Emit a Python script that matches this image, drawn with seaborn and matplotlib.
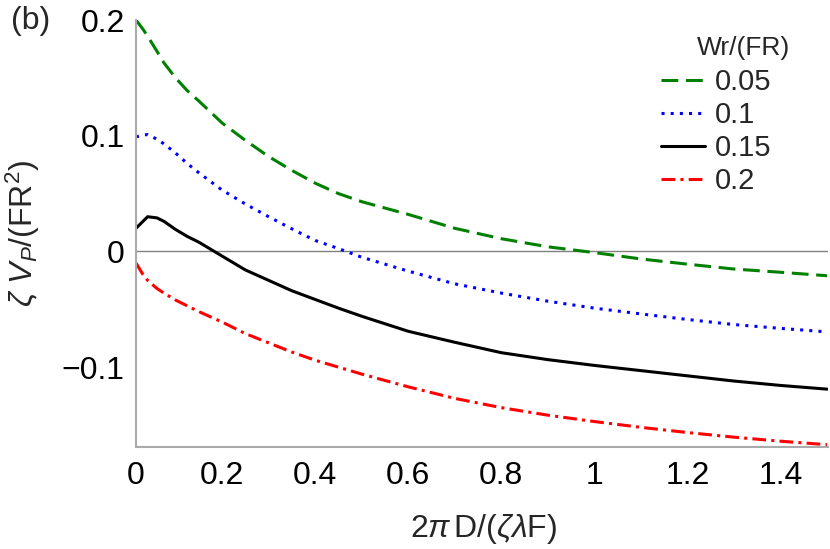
import numpy as np
import pandas as pd
import matplotlib
matplotlib.use("Agg")
import matplotlib.pyplot as plt
import seaborn as sns
from matplotlib.lines import Line2D

# x values along 2 pi D / (zeta lambda F)
x_vals = [0.015, 0.03, 0.04, 0.06, 0.075, 0.1, 0.125, 0.15, 0.2, 0.25, 0.3, 0.35,
          0.4, 0.45, 0.5, 0.6, 0.7, 0.8, 0.9, 1.0, 1.1, 1.2, 1.3, 1.4, 1.5]

# zeta V_P / (F R^2) for each Wr/(FR)
v_005 = [0.200, 0.192, 0.186, 0.173, 0.163, 0.150, 0.139, 0.130, 0.111, 0.096, 0.082, 0.070,
         0.059, 0.050, 0.043, 0.032, 0.020, 0.011, 0.004, -0.001, -0.0065, -0.011, -0.0152,
         -0.018, -0.021]
v_010 = [0.099, 0.1005, 0.101, 0.097, 0.093, 0.085, 0.076, 0.068, 0.053, 0.041, 0.030, 0.0195,
         0.0095, 0.0025, -0.005, -0.017, -0.028, -0.036, -0.043, -0.049, -0.054, -0.0588,
         -0.0632, -0.0665, -0.0695]
v_015 = [0.020, 0.026, 0.030, 0.029, 0.026, 0.019, 0.013, 0.008, -0.004, -0.016, -0.025, -0.034,
         -0.0415, -0.049, -0.056, -0.069, -0.0785, -0.0875, -0.0935, -0.0985, -0.103, -0.1075,
         -0.112, -0.1158, -0.119]
v_020 = [-0.010, -0.020, -0.025, -0.032, -0.036, -0.042, -0.047, -0.052, -0.061, -0.071, -0.079,
         -0.087, -0.094, -0.100, -0.106, -0.117, -0.127, -0.135, -0.1415, -0.147, -0.152,
         -0.1565, -0.1605, -0.164, -0.167]

wr_labels = ["0.05", "0.1", "0.15", "0.2"]
colors = {"0.05": "#008000", "0.1": "#0000ff", "0.15": "#000000", "0.2": "#ff0000"}
dashes = {"0.05": (5.5, 2.5), "0.1": (1, 2), "0.15": "", "0.2": (4.5, 1.7, 1, 1.7)}

frames = []
for lab, vals in zip(wr_labels, [v_005, v_010, v_015, v_020]):
    frames.append(pd.DataFrame({"x": x_vals, "v": vals, "wr": lab}))
df = pd.concat(frames, ignore_index=True)

sns.set_style("white")
plt.rcParams['font.family'] = ['Liberation Sans', 'DejaVu Sans']
plt.rcParams['mathtext.fontset'] = 'custom'
plt.rcParams['mathtext.rm'] = 'Liberation Sans'
plt.rcParams['mathtext.it'] = 'Liberation Sans:italic'

fig = plt.figure(figsize=(8.3, 5.49), dpi=100)
ax = fig.add_axes([136 / 830, 1 - 447 / 549, 692 / 830, 427 / 549])

ax.axhline(0, color="#808080", lw=1.0, zorder=1)
sns.lineplot(data=df, x="x", y="v", hue="wr", style="wr", hue_order=wr_labels,
             style_order=wr_labels, palette=colors, dashes=dashes, lw=2.2,
             sort=False, legend=False, ax=ax)
for ln in ax.lines:
    ln.set_dash_capstyle("butt")

ax.set_xlim(0.015, 1.502)
ax.set_ylim(-0.169, 0.2)
ax.set_xticks([0.015, 0.2, 0.4, 0.6, 0.8, 1.0, 1.2, 1.4])
ax.set_xticklabels(["0", "0.2", "0.4", "0.6", "0.8", "1", "1.2", "1.4"])
ax.set_yticks([-0.1, 0, 0.1, 0.2])
ax.set_yticklabels(["\u22120.1", "0", "0.1", "0.2"])
ax.tick_params(axis="both", direction="in", colors="#999999", labelcolor="black",
               labelsize=23, width=1.0)
ax.tick_params(axis="x", length=8, pad=10)
ax.tick_params(axis="y", length=6, pad=8)
ax.get_xticklines()[0].set_visible(False)
ax.get_xticklines()[1].set_visible(False)

for s in ["top", "right"]:
    ax.spines[s].set_visible(False)
for s in ["left", "bottom"]:
    ax.spines[s].set_color("#aaaaaa")
    ax.spines[s].set_linewidth(1.5)

ax.set_xlabel(r"2$\pi\,$D/($\zeta\lambda$F)", fontsize=23)
ax.set_ylabel(r"$\zeta\ V_P$/(FR$^2$)", fontsize=23)
ax.xaxis.set_label_coords(0.503, -0.152)
ax.yaxis.set_label_coords(-0.136, 0.5)

handles = [Line2D([], [], color=colors[l], lw=2.2,
                  dashes=dashes[l] if dashes[l] else (None, None)) for l in wr_labels]
for h in handles:
    h.set_dash_capstyle("butt")
leg = ax.legend(handles, wr_labels, loc="upper left", frameon=False,
                bbox_to_anchor=(661 / 830, 1 - 68 / 549), bbox_transform=fig.transFigure,
                fontsize=21, handlelength=1.5, handletextpad=0.35, labelspacing=0.17,
                borderpad=0, borderaxespad=0)
fig.text(744 / 830, 1 - 48 / 549, "Wr/(FR)", fontsize=19, ha="center", va="center")
fig.text(31 / 830, 1 - 21 / 549, "(b)", fontsize=23, ha="center", va="center")

fig.savefig("out.png", dpi=100)
